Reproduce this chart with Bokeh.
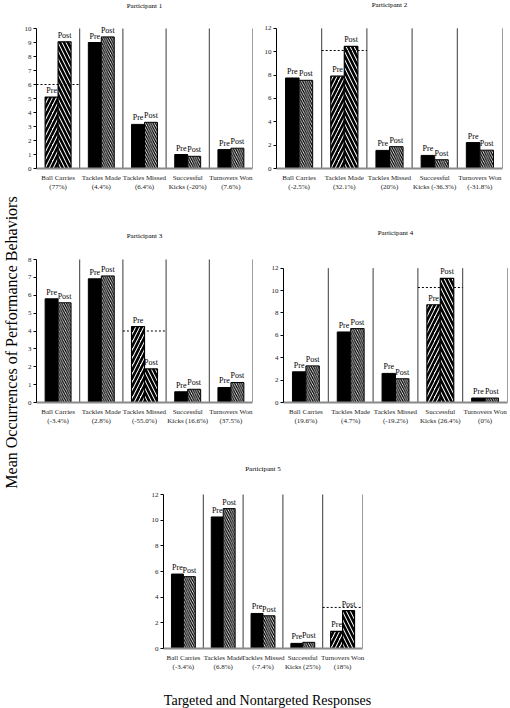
import math
from bokeh.plotting import figure
from bokeh.models import Range1d, FixedTicker, Label, LabelSet, Spacer, ColumnDataSource
from bokeh.layouts import row, column
from bokeh.embed import file_html
from bokeh.resources import INLINE

# ---------------- data ----------------
categories = ["Ball Carries", "Tackles Made", "Tackles Missed", "Successful", "Turnovers Won"]
successful_prefix = "Kicks "

titles = ["Participant 1", "Participant 2", "Participant 3", "Participant 4", "Participant 5"]

p1_pct = ["77%", "4.4%", "6.4%", "-20%", "7.6%"]
p2_pct = ["-2.5%", "32.1%", "20%", "-36.3%", "-31.8%"]
p3_pct = ["-3.4%", "2.8%", "-55.0%", "16.6%", "37.5%"]
p4_pct = ["19.6%", "4.7%", "-19.2%", "26.4%", "0%"]
p5_pct = ["-3.4%", "6.8%", "-7.4%", "25%", "18%"]

p1_pre = [5.1, 9.0, 3.15, 1.0, 1.35]
p1_post = [9.05, 9.4, 3.3, 0.87, 1.45]
p2_pre = [7.75, 7.9, 1.55, 1.12, 2.22]
p2_post = [7.55, 10.45, 1.87, 0.75, 1.57]
p3_pre = [5.8, 6.92, 4.25, 0.6, 0.84]
p3_post = [5.58, 7.08, 1.88, 0.74, 1.12]
p4_pre = [2.74, 6.3, 2.6, 8.73, 0.4]
p4_post = [3.27, 6.6, 2.12, 11.08, 0.4]
p5_pre = [5.8, 10.25, 2.73, 0.4, 1.33]
p5_post = [5.6, 10.9, 2.55, 0.48, 2.95]

targets = [0, 1, 2, 3, 4]            # index of targeted behaviour per participant
criteria = [6.0, 10.1, 4.0, 10.27, 3.2]
y_max = [10, 12, 8, 12, 12]
y_step = [1, 2, 1, 2, 2]

FONT = "Liberation Serif"


def panel(i, pre, post, pct, width, height, bl, br, bb, row_top, frame_top, frame_bottom, title_y):
    """row_top/frame_top/frame_bottom/title_y are page pixel positions (layout only)."""
    ymax = y_max[i]
    ppu = (frame_bottom - frame_top) / ymax
    y_end = ymax + (frame_top - row_top) / ppu
    p = figure(width=width, height=height, x_range=Range1d(0, 5), y_range=Range1d(0, y_end),
               output_backend="svg", toolbar_location=None, title=None,
               min_border_left=bl, min_border_right=br, min_border_top=0, min_border_bottom=bb,
               outline_line_color=None, background_fill_color="white", border_fill_color="white")
    p.grid.visible = False

    # title (inside the extended frame)
    p.add_layout(Label(x=2.5, y=ymax + (frame_top - title_y) / ppu, text=titles[i],
                       text_align="center", text_baseline="middle", text_font=FONT,
                       text_font_size="7px", text_color="black"))

    # category separators
    seps = [k + 1 for k in range(len(categories))]
    p.segment(x0=seps, x1=seps, y0=[0] * len(seps), y1=[ymax] * len(seps),
              line_color="#3a3a3a", line_width=1)

    w = 0.3
    tgt = targets[i]
    base_idx = [k for k in range(len(categories)) if k != tgt]
    # baseline (non-targeted) pre: solid black
    p.vbar(x=[k + 0.5 - w / 2 for k in base_idx], top=[pre[k] for k in base_idx], width=w,
           fill_color="black", line_color="black", line_width=1)
    # baseline post: fine diagonal hatch
    p.vbar(x=[k + 0.5 + w / 2 for k in base_idx], top=[post[k] for k in base_idx], width=w,
           fill_color="white", line_color="black", line_width=1,
           hatch_pattern="\\", hatch_color="black", hatch_weight=1.3, hatch_scale=4.5)
    # targeted pre / post: wide diagonal hatch
    p.vbar(x=[tgt + 0.5 - w / 2], top=[pre[tgt]], width=w,
           fill_color="white", line_color="black", line_width=1.2,
           hatch_pattern="/", hatch_color="black", hatch_weight=2.6, hatch_scale=8)
    p.vbar(x=[tgt + 0.5 + w / 2], top=[post[tgt]], width=w,
           fill_color="white", line_color="black", line_width=1.2,
           hatch_pattern="\\", hatch_color="black", hatch_weight=2.6, hatch_scale=8)

    # criterion line
    p.segment(x0=[tgt], x1=[tgt + 1], y0=[criteria[i]], y1=[criteria[i]],
              line_color="black", line_width=1, line_dash="2 2")

    # Pre / Post labels
    src = ColumnDataSource(dict(
        x=[k + 0.5 - w / 2 for k in range(5)] + [k + 0.5 + w / 2 for k in range(5)],
        y=list(pre) + list(post),
        t=["Pre"] * 5 + ["Post"] * 5))
    p.add_layout(LabelSet(x="x", y="y", text="t", source=src, y_offset=2,
                          text_align="center", text_baseline="bottom",
                          text_font=FONT, text_font_size="8px", text_color="black"))

    # axes
    ya = p.yaxis[0]
    ya.ticker = FixedTicker(ticks=list(range(0, ymax + 1, y_step[i])))
    ya.bounds = (0, ymax)
    ya.major_tick_out = 3
    ya.major_tick_in = 0
    ya.minor_tick_line_color = None
    ya.axis_line_color = "black"
    ya.major_tick_line_color = "black"
    ya.major_label_standoff = 2
    ya.major_label_text_font = FONT
    ya.major_label_text_font_size = "7px"
    ya.major_label_text_color = "#222222"

    xa = p.xaxis[0]
    xa.ticker = FixedTicker(ticks=[k + 0.5 for k in range(5)])
    labels = {}
    for k, c in enumerate(categories):
        second = ("(" + pct[k] + ")") if c != "Successful" else (successful_prefix + "(" + pct[k] + ")")
        labels[k + 0.5] = c + "\n" + second
    xa.major_label_overrides = labels
    xa.major_tick_out = 0
    xa.major_tick_in = 0
    xa.minor_tick_line_color = None
    xa.axis_line_color = "#8a8a8a"
    xa.axis_line_width = 2
    xa.major_label_standoff = 5
    xa.major_label_text_font = FONT
    xa.major_label_text_font_size = "7px"
    xa.major_label_text_color = "#222222"
    return p


YT_W = 20
p1 = panel(0, p1_pre, p1_post, p1_pct, 238, 196, 16, 6, 28, 0, 28, 168, 5)
p2 = panel(1, p2_pre, p2_post, p2_pct, 250, 196, 18, 6, 27, 0, 28, 169, 5)
p3 = panel(2, p3_pre, p3_post, p3_pct, 238, 234, 16, 6, 28, 196, 259, 402, 235)
p4 = panel(3, p4_pre, p4_post, p4_pct, 250, 234, 25, 1, 27, 196, 268, 403, 233)
p5 = panel(4, p5_pre, p5_post, p5_pct, 232, 246, 16, 17, 28, 430, 494, 648, 468)

# y title
yt = figure(width=YT_W, height=708, x_range=Range1d(0, YT_W), y_range=Range1d(0, 708),
            output_backend="svg", toolbar_location=None, min_border=0, title=None,
            outline_line_color=None, x_axis_location=None, y_axis_location=None)
yt.grid.visible = False
yt.add_layout(Label(x=11, y=708 - 342, text="Mean Occurrences of Performance Behaviors", angle=math.pi / 2,
                    text_align="center", text_baseline="middle", text_font=FONT,
                    text_font_size="16px", text_color="black"))

# x title
xt = figure(width=488, height=32, x_range=Range1d(0, 488), y_range=Range1d(0, 32),
            output_backend="svg", toolbar_location=None, min_border=0, title=None,
            outline_line_color=None, x_axis_location=None, y_axis_location=None)
xt.grid.visible = False
xt.add_layout(Label(x=267 - YT_W, y=8, text="Targeted and Nontargeted Responses",
                    text_align="center", text_baseline="middle", text_font=FONT,
                    text_font_size="14px", text_color="black"))

right = column(row(p1, p2), row(p3, p4), row(Spacer(width=127, height=246), p5), xt)
layout = row(yt, right)

open("out.html", "w").write(file_html(layout, INLINE))
